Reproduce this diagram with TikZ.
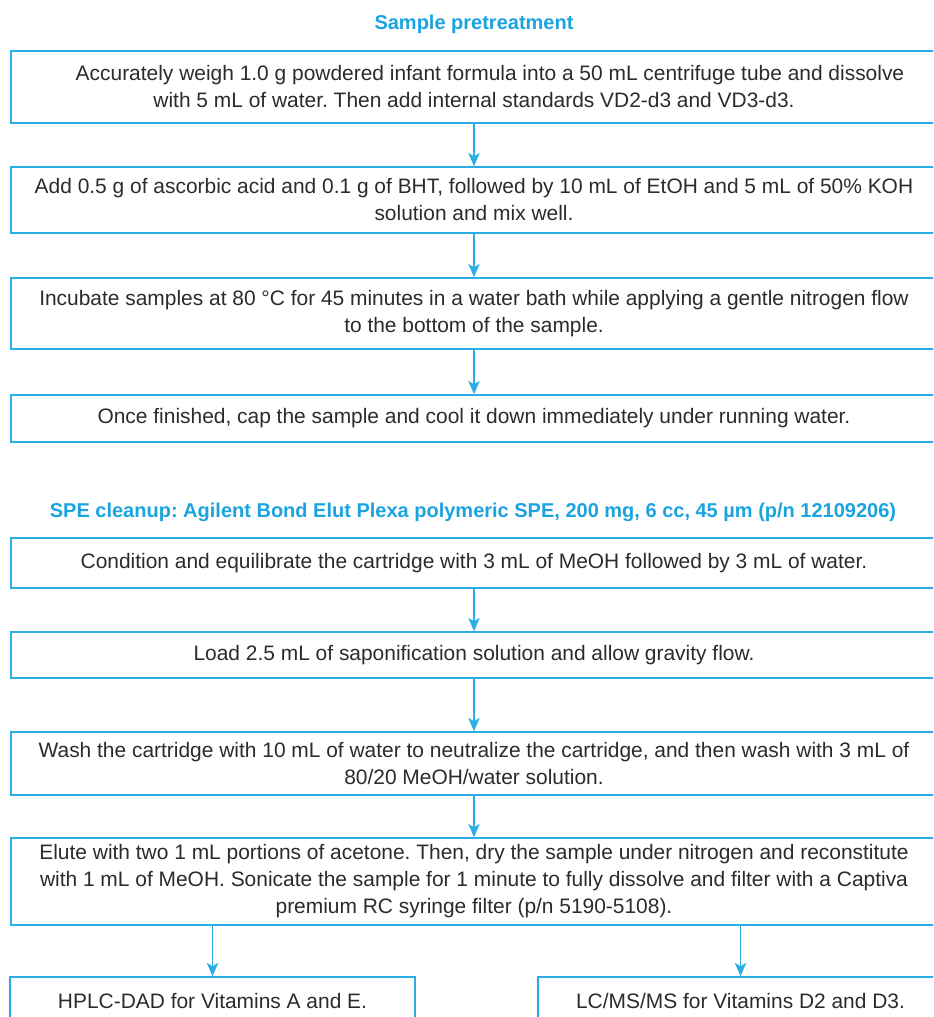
\documentclass[tikz,border=0pt]{standalone}
\usepackage{fontspec}
\setmainfont{Liberation Sans}
\frenchspacing
\usetikzlibrary{arrows.meta}
\definecolor{agblue}{HTML}{1BA3E0}
\definecolor{agline}{HTML}{2AAEE4}
\definecolor{agtext}{HTML}{2B2B2B}
\tikzset{
  stepbox/.style={draw=agline, line width=1.1pt, inner sep=0pt, minimum width=694.5pt,
    align=center, text=agtext, font=\fontsize{15.7}{20.25}\selectfont},
  endbox/.style={stepbox, minimum width=303.75pt, minimum height=36pt},
  headtext/.style={text=agblue, font=\fontsize{15}{20.25}\selectfont\bfseries},
  flowarrow/.style={draw=agline, line width=1.1pt, -{Stealth[length=10pt,width=8.5pt,inset=2.5pt]}}
}
\begin{document}
\begin{tikzpicture}[x=0.75pt,y=0.75pt,yscale=-1,xscale=1]
\clip (0,0) rectangle (933,1017);

% Text Node
\node [headtext] (head1) at (474,24) {Sample pretreatment};

%Flowchart box
\node [stepbox, minimum height=54pt] (weigh) at (474,87) {\hspace*{24pt}Accurately weigh 1.0 g powdered infant formula into a 50 mL centrifuge tube and dissolve\\with 5 mL of water. Then add internal standards VD2-d3 and VD3-d3.};
%Flowchart box
\node [stepbox, minimum height=49.5pt] (saponify) at (474,200) {Add 0.5 g of ascorbic acid and 0.1 g of BHT, followed by 10 mL of EtOH and 5 mL of 50\% KOH\\solution and mix well.};
%Flowchart box
\node [stepbox, minimum height=53.25pt] (incubate) at (474,313.5) {Incubate samples at 80 °C for 45 minutes in a water bath while applying a gentle nitrogen flow\\to the bottom of the sample.};
%Flowchart box
\node [stepbox, minimum height=35.25pt] (cool) at (474,418.5) {Once finished, cap the sample and cool it down immediately under running water.};

% Text Node
\node [headtext] (head2) at (473,512) {SPE cleanup: Agilent Bond Elut Plexa polymeric SPE, 200 mg, 6 cc, 45 µm (p/n 12109206)};

%Flowchart box
\node [stepbox, minimum height=37.5pt] (condition) at (474,563) {Condition and equilibrate the cartridge with 3 mL of MeOH followed by 3 mL of water.};
%Flowchart box
\node [stepbox, minimum height=34.5pt] (load) at (474,655) {Load 2.5 mL of saponification solution and allow gravity flow.};
%Flowchart box
\node [stepbox, minimum height=47.25pt] (wash) at (474,763.5) {Wash the cartridge with 10 mL of water to neutralize the cartridge, and then wash with 3 mL of\\80/20 MeOH/water solution.};
%Flowchart box
\node [stepbox, minimum height=65.25pt] (elute) at (474,881.5) {Elute with two 1 mL portions of acetone. Then, dry the sample under nitrogen and reconstitute\\with 1 mL of MeOH. Sonicate the sample for 1 minute to fully dissolve and filter with a Captiva\\premium RC syringe filter (p/n 5190-5108).};

%Flowchart box
\node [endbox] (hplc) at (212.5,1001) {HPLC-DAD for Vitamins A and E.};
%Flowchart box
\node [endbox] (lcms) at (740.5,1001) {LC/MS/MS for Vitamins D2 and D3.};

%Arrows
\draw [flowarrow] (weigh) -- (saponify);
\draw [flowarrow] (saponify) -- (incubate);
\draw [flowarrow] (incubate) -- (cool);
\draw [flowarrow] (condition) -- (load);
\draw [flowarrow] (load) -- (wash);
\draw [flowarrow] (wash) -- (elute);
\draw [flowarrow] (elute.south -| hplc) -- (hplc);
\draw [flowarrow] (elute.south -| lcms) -- (lcms);

\end{tikzpicture}
\end{document}
